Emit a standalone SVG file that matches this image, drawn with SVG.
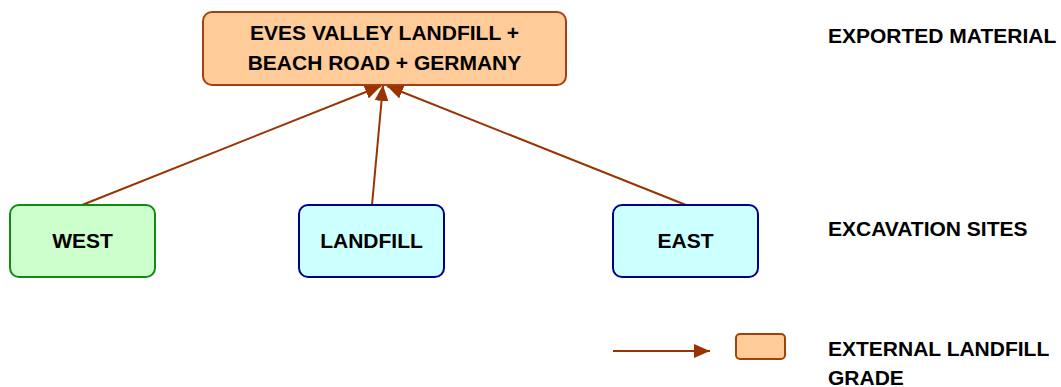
<svg xmlns="http://www.w3.org/2000/svg" width="1061" height="387" viewBox="0 0 1061 387">
  <style>
    text { font-family: "Liberation Sans", Arial, sans-serif; font-weight: bold; font-size: 21px; fill: #000; }
    .mid { text-anchor: middle; }
    .export { fill: #FFCC99; stroke: #A0420F; stroke-width: 2; }
    .west { fill: #CCFFCC; stroke: #108A10; stroke-width: 2; }
    .site { fill: #CCFFFF; stroke: #000088; stroke-width: 2; }
    .edge { stroke: #993300; stroke-width: 2; fill: none; marker-end: url(#arrow); }
  </style>
  <defs>
    <marker id="arrow" markerUnits="userSpaceOnUse" markerWidth="16" markerHeight="14" refX="16" refY="7" orient="auto">
      <path d="M0,0 L16,7 L0,14 Z" fill="#993300"/>
    </marker>
  </defs>
  <rect width="1061" height="387" fill="#fff"/>

  <g id="connectors">
    <line class="edge" x1="82" y1="205" x2="381" y2="86"/>
    <line class="edge" x1="372" y1="205" x2="383" y2="85"/>
    <line class="edge" x1="686" y1="205" x2="387" y2="86"/>
  </g>

  <g id="node-export">
    <rect class="export" x="203" y="12" width="363" height="73" rx="9"/>
    <text class="mid" x="384.5" y="40">EVES VALLEY LANDFILL +</text>
    <text class="mid" x="384.5" y="70">BEACH ROAD + GERMANY</text>
  </g>

  <g id="node-west">
    <rect class="west" x="10" y="205" width="145" height="72" rx="9"/>
    <text class="mid" x="82.5" y="248">WEST</text>
  </g>

  <g id="node-landfill">
    <rect class="site" x="299" y="205" width="145" height="72" rx="9"/>
    <text class="mid" x="371.5" y="248">LANDFILL</text>
  </g>

  <g id="node-east">
    <rect class="site" x="613" y="205" width="145" height="72" rx="9"/>
    <text class="mid" x="685.5" y="248">EAST</text>
  </g>

  <g id="labels">
    <text x="828" y="43">EXPORTED MATERIAL</text>
    <text x="828" y="236">EXCAVATION SITES</text>
  </g>

  <g id="legend">
    <line class="edge" x1="613" y1="351" x2="710" y2="351"/>
    <rect class="export" x="736" y="334" width="49" height="25" rx="4"/>
    <text x="828" y="356">EXTERNAL LANDFILL</text>
    <text x="828" y="385">GRADE</text>
  </g>
</svg>
